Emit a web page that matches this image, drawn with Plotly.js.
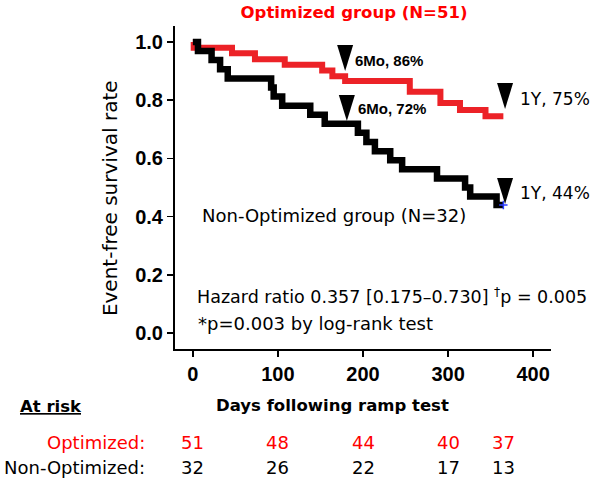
<!DOCTYPE html>
<html>
<head>
<meta charset="utf-8">
<script src="https://cdn.plot.ly/plotly-3.0.1.min.js"></script>
<style>html, body { margin: 0; padding: 0; background: #fff; }</style>
</head>
<body>
<div id="km_plot" style="width:600px;height:479px;"></div>
<script>
// Kaplan-Meier steps (days, survival)
var optDays = [0, 1, 46, 73, 108, 152, 164, 179, 255, 291, 314, 344, 365];
var optSurv = [1.0, 0.980, 0.961, 0.941, 0.922, 0.902, 0.882, 0.866, 0.829, 0.790, 0.766, 0.745, 0.745];

var nonDays = [0, 6, 22, 32, 41, 92, 95, 105, 138, 155, 194, 204, 214, 232, 246, 287, 320, 326, 357, 365];
var nonSurv = [1.0, 0.969, 0.938, 0.906, 0.875, 0.844, 0.813, 0.781, 0.750, 0.719, 0.688, 0.656, 0.625, 0.594, 0.563, 0.531, 0.500, 0.469, 0.440, 0.440];

// numbers at risk
var riskDays = [0, 100, 200, 300, 365];
var optRisk = [51, 48, 44, 40, 37];
var nonRisk = [32, 26, 22, 17, 13];

var tickVals = [0, 100, 200, 300, 400];
var yTickVals = [0, 0.2, 0.4, 0.6, 0.8, 1.0];

var RED = '#ec2227';
var TXT = 'DejaVu Sans, Liberation Sans, sans-serif';
var ARIAL = 'Liberation Sans, Arial, sans-serif';

var traces = [];
traces.push({
    x: optDays,
    y: optSurv,
    type: 'scatter',
    mode: 'lines',
    name: 'Optimized',
    line: {color: RED, width: 6, shape: 'hv'},
    hoverinfo: 'skip'
});
traces.push({
    x: nonDays,
    y: nonSurv,
    type: 'scatter',
    mode: 'lines',
    name: 'Non-Optimized',
    line: {color: '#000', width: 6.5, shape: 'hv'},
    hoverinfo: 'skip'
});
// censor mark at end of the non-optimized curve
traces.push({
    x: [nonDays[nonDays.length - 1]],
    y: [nonSurv[nonSurv.length - 1]],
    type: 'scatter',
    mode: 'markers',
    marker: {symbol: 'cross-thin', size: 6, line: {color: '#2a3cff', width: 1.5}},
    hoverinfo: 'skip'
});

function tri(day, top) {
    return {
        type: 'path',
        xref: 'x', yref: 'y',
        xsizemode: 'pixel', ysizemode: 'pixel',
        xanchor: day, yanchor: top,
        path: 'M -8,0 L 8,0 L 0,-26 Z',
        fillcolor: '#000',
        line: {width: 0}
    };
}

var shapes = [tri(179, 0.99), tri(181, 0.818), tri(367, 0.859), tri(367, 0.533)];

var annotations = [];
function note(text, x, y, opts) {
    var a = {
        text: text, x: x, y: y,
        xref: 'x', yref: 'y',
        xanchor: 'left', yanchor: 'middle',
        showarrow: false,
        font: {family: TXT, size: 18, color: '#000'}
    };
    for (var k in opts) a[k] = opts[k];
    annotations.push(a);
}

note('6Mo, 86%', 188, 0.938, {font: {family: ARIAL, size: 15, color: '#000', weight: 'bold'}});
note('6Mo, 72%', 192, 0.773, {font: {family: ARIAL, size: 15, color: '#000', weight: 'bold'}});
note('1Y, 75%', 382, 0.804, {font: {family: TXT, size: 17, color: '#000'}});
note('1Y, 44%', 382, 0.481, {font: {family: TXT, size: 17, color: '#000'}});
note('Non-Optimized group (N=32)', 8, 0.405, {});
note('Hazard ratio 0.357 [0.175\u20130.730] <sup>\u2020</sup>p = 0.005', 2, 0.127, {font: {family: TXT, size: 17.5, color: '#000'}});
note('*p=0.003 by log-rank test', 4, 0.034, {});

// y axis title
note('Event-free survival rate', -0.173, 0.467, {
    xref: 'paper', yref: 'paper', xanchor: 'center', textangle: -90,
    font: {family: TXT, size: 20, color: '#000'}
});
// x axis title
note('Days following ramp test', 0.42, -0.176, {
    xref: 'paper', yref: 'paper', xanchor: 'center',
    font: {family: TXT, size: 16.5, color: '#000', weight: 'bold'}
});
// at-risk table
note('<u>At risk</u>', -0.4176, -0.1765, {xref: 'paper', yref: 'paper',
    font: {family: TXT, size: 16.5, color: '#000', weight: 'bold'}});
note('Optimized:', -0.0745, -0.291, {xref: 'paper', yref: 'paper', xanchor: 'right',
    font: {family: TXT, size: 18, color: 'red'}});
note('Non-Optimized:', -0.0745, -0.368, {xref: 'paper', yref: 'paper', xanchor: 'right'});
for (var i = 0; i < riskDays.length; i++) {
    note(String(optRisk[i]), riskDays[i], -0.291, {yref: 'paper', xanchor: 'center',
        font: {family: TXT, size: 18, color: 'red'}});
    note(String(nonRisk[i]), riskDays[i], -0.368, {yref: 'paper', xanchor: 'center'});
}

var layout = {
    width: 600,
    height: 479,
    margin: {l: 175, r: 49, t: 26, b: 130},
    paper_bgcolor: '#fff',
    plot_bgcolor: '#fff',
    showlegend: false,
    title: {
        text: 'Optimized group (N=51)',
        xref: 'container', x: 0.59, xanchor: 'center',
        yref: 'container', y: 0.975, yanchor: 'middle',
        font: {family: TXT, size: 16.5, color: 'red', weight: 'bold'}
    },
    xaxis: {
        range: [-21, 421],
        tickvals: tickVals,
        ticks: 'outside', ticklen: 6, tickwidth: 1.5, tickcolor: '#000',
        showline: true, linecolor: '#000', linewidth: 2,
        showgrid: false, zeroline: false,
        tickfont: {family: ARIAL, size: 20, color: '#000', weight: 'bold'}
    },
    yaxis: {
        range: [-0.055, 1.055],
        tickvals: yTickVals,
        tickformat: '.1f',
        ticks: 'outside', ticklen: 6, tickwidth: 1.5, tickcolor: '#000',
        showline: true, linecolor: '#000', linewidth: 2,
        showgrid: false, zeroline: false,
        tickfont: {family: ARIAL, size: 20, color: '#000', weight: 'bold'}
    },
    shapes: shapes,
    annotations: annotations
};

Plotly.newPlot('km_plot', traces, layout, {displayModeBar: false, staticPlot: true});
</script>
</body>
</html>
